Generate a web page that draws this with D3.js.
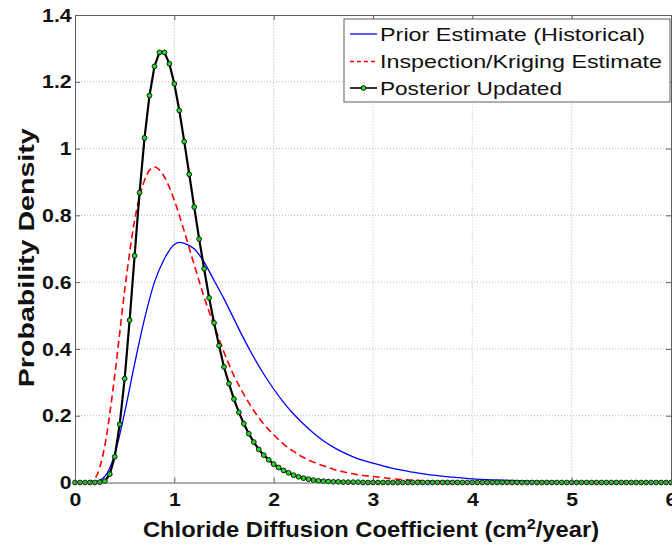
<!DOCTYPE html>
<html>
<head>
<meta charset="utf-8">
<script src="https://cdn.jsdelivr.net/npm/d3@7"></script>
<style>
  body { margin: 0; background: #fff; }
  svg { display: block; }
  text { font-family: "Liberation Sans", Arial, Helvetica, sans-serif; }
</style>
</head>
<body>
<svg id="chart"></svg>
<script>
// axis ticks
const xTicks = [0, 1, 2, 3, 4, 5, 6];
const yTicks = [0, 0.2, 0.4, 0.6, 0.8, 1, 1.2, 1.4];
const yTickLabels = ["0", "0.2", "0.4", "0.6", "0.8", "1", "1.2", "1.4"];
const seriesNames = ["Prior Estimate (Historical)", "Inspection/Kriging Estimate", "Posterior Updated"];

// prior (blue solid)
const priorX = [0, 0.1, 0.2, 0.3, 0.4, 0.5, 0.6, 0.7, 0.8, 0.9, 1.0, 1.05, 1.1, 1.2, 1.3, 1.4, 1.5, 1.6, 1.7, 1.8, 1.9,
  2.0, 2.1, 2.2, 2.3, 2.4, 2.5, 2.6, 2.7, 2.8, 2.9, 3.0, 3.2, 3.4, 3.6, 3.8, 4.0, 4.2, 4.4, 4.6, 4.8, 5.0, 5.5, 6.0];
const priorY = [0, 0, 0.002, 0.018, 0.085, 0.21, 0.355, 0.49, 0.60, 0.67, 0.713, 0.719, 0.716, 0.70, 0.66, 0.605, 0.55, 0.49, 0.43, 0.375, 0.325,
  0.28, 0.24, 0.205, 0.175, 0.148, 0.125, 0.106, 0.09, 0.077, 0.066, 0.058, 0.042, 0.031, 0.022, 0.016, 0.011, 0.008, 0.006, 0.004, 0.003, 0.002, 0.001, 0];

// inspection / kriging (red dashed)
const krigX = [0, 0.1, 0.2, 0.3, 0.4, 0.5, 0.6, 0.7, 0.8, 0.9, 1.0, 1.1, 1.2, 1.3, 1.4, 1.5, 1.6, 1.7, 1.8, 1.9,
  2.0, 2.1, 2.2, 2.3, 2.4, 2.5, 2.6, 2.7, 2.8, 2.9, 3.0, 3.2, 3.4, 3.6, 3.8, 4.0, 4.2, 4.5, 5.0, 6.0];
const krigY = [0, 0, 0.013, 0.11, 0.32, 0.575, 0.785, 0.905, 0.945, 0.915, 0.845, 0.752, 0.652, 0.555, 0.47, 0.39, 0.32, 0.264, 0.215, 0.175,
  0.143, 0.115, 0.093, 0.075, 0.061, 0.05, 0.04, 0.032, 0.026, 0.021, 0.018, 0.011, 0.007, 0.004, 0.003, 0.002, 0.001, 0.0005, 0, 0];

// posterior (black + green markers)
const postX = [
  0, 0.05, 0.1, 0.15, 0.2, 0.25, 0.3, 0.35, 0.4, 0.45, 0.5, 0.55, 0.6, 0.65, 0.7, 0.75, 0.8, 0.85, 0.9, 0.95,
  1, 1.05, 1.1, 1.15, 1.2, 1.25, 1.3, 1.35, 1.4, 1.45, 1.5, 1.55, 1.6, 1.65, 1.7, 1.75, 1.8, 1.85, 1.9, 1.95,
  2, 2.05, 2.1, 2.15, 2.2, 2.25, 2.3, 2.35, 2.4, 2.45, 2.5, 2.55, 2.6, 2.65, 2.7, 2.75, 2.8, 2.85, 2.9, 2.95,
  3, 3.05, 3.1, 3.15, 3.2, 3.25, 3.3, 3.35, 3.4, 3.45, 3.5, 3.55, 3.6, 3.65, 3.7, 3.75, 3.8, 3.85, 3.9, 3.95,
  4, 4.05, 4.1, 4.15, 4.2, 4.25, 4.3, 4.35, 4.4, 4.45, 4.5, 4.55, 4.6, 4.65, 4.7, 4.75, 4.8, 4.85, 4.9, 4.95,
  5, 5.05, 5.1, 5.15, 5.2, 5.25, 5.3, 5.35, 5.4, 5.45, 5.5, 5.55, 5.6, 5.65, 5.7, 5.75, 5.8, 5.85, 5.9, 5.95,
  6];
const postY = [
  0, 0, 0, 0, 0, 0.001, 0.004, 0.025, 0.077, 0.174, 0.311, 0.486, 0.679, 0.868, 1.032, 1.159, 1.246, 1.288, 1.288, 1.254,
  1.194, 1.114, 1.021, 0.923, 0.825, 0.729, 0.640, 0.553, 0.478, 0.410, 0.346, 0.296, 0.250, 0.210, 0.176, 0.146, 0.121, 0.099, 0.082, 0.068,
  0.055, 0.045, 0.036, 0.029, 0.022, 0.017, 0.013, 0.010, 0.007, 0.005, 0.004, 0.003, 0.002, 0.002, 0.001, 0.001, 0.001, 0.001, 0, 0,
  0, 0, 0, 0, 0, 0, 0, 0, 0, 0, 0, 0, 0, 0, 0, 0, 0, 0, 0, 0,
  0, 0, 0, 0, 0, 0, 0, 0, 0, 0, 0, 0, 0, 0, 0, 0, 0, 0, 0, 0,
  0, 0, 0, 0, 0, 0, 0, 0, 0, 0, 0, 0, 0, 0, 0, 0, 0, 0, 0, 0,
  0];

const width = 672, height = 546;
const margin = {top: 15, right: 1, bottom: 63.5, left: 75};

const svg = d3.select("#chart").attr("width", width).attr("height", height);

const x = d3.scaleLinear().domain([0, 6]).range([margin.left, width - margin.right]);
const y = d3.scaleLinear().domain([0, 1.4]).range([height - margin.bottom, margin.top]);

const boxColor = "#5e5e5e";
const gridColor = "#b8b8b8";
const textColor = "#111";

// grid (dotted, matlab style)
const grid = svg.append("g");
grid.selectAll(".gx").data(xTicks.slice(1, -1)).join("line")
  .attr("x1", d => x(d)).attr("x2", d => x(d))
  .attr("y1", y(0)).attr("y2", y(1.4))
  .attr("stroke", gridColor).attr("stroke-dasharray", "1,2");
grid.selectAll(".gy").data(yTicks.slice(1, -1)).join("line")
  .attr("class", "gy")
  .attr("x1", x(0)).attr("x2", x(6))
  .attr("y1", d => y(d)).attr("y2", d => y(d))
  .attr("stroke", gridColor).attr("stroke-dasharray", "1,2");

// lines
const lineGen = d3.line().x(d => x(d[0])).y(d => y(d[1])).curve(d3.curveMonotoneX);
const priorData = priorX.map((v, i) => [v, priorY[i]]);
const krigData = krigX.map((v, i) => [v, krigY[i]]);
const postData = postX.map((v, i) => [v, postY[i]]);

svg.append("path").datum(priorData)
  .attr("d", lineGen).attr("fill", "none")
  .attr("stroke", "#0000ff").attr("stroke-width", 1.3);

svg.append("path").datum(krigData)
  .attr("d", lineGen).attr("fill", "none")
  .attr("stroke", "#ff0000").attr("stroke-width", 1.6)
  .attr("stroke-dasharray", "7,4");

svg.append("path").datum(postData)
  .attr("d", d3.line().x(d => x(d[0])).y(d => y(d[1])))
  .attr("fill", "none").attr("stroke", "#000").attr("stroke-width", 2.2);

svg.append("g").selectAll("circle").data(postData).join("circle")
  .attr("cx", d => x(d[0])).attr("cy", d => y(d[1]))
  .attr("r", 2.4)
  .attr("fill", "#1fdc1f").attr("stroke", "#0a0a0a").attr("stroke-width", 0.9);

// axes
svg.append("g").attr("transform", `translate(0,${y(0)})`)
  .call(d3.axisBottom(x).tickValues(xTicks).tickFormat(d3.format("d"))
    .tickSizeInner(-5).tickSizeOuter(0).tickPadding(10));
svg.append("g").attr("transform", `translate(${x(0)},0)`)
  .call(d3.axisLeft(y).tickValues(yTicks).tickFormat((d, i) => yTickLabels[i])
    .tickSizeInner(-5).tickSizeOuter(0).tickPadding(3));
svg.append("g").attr("transform", `translate(0,${y(1.4)})`)
  .call(d3.axisTop(x).tickValues(xTicks).tickFormat("").tickSizeInner(-5).tickSizeOuter(0));
svg.append("g").attr("transform", `translate(${x(6)},0)`)
  .call(d3.axisRight(y).tickValues(yTicks).tickFormat("").tickSizeInner(-5).tickSizeOuter(0));

svg.selectAll(".domain, .tick line").attr("stroke", boxColor);
svg.selectAll(".tick text")
  .attr("fill", textColor)
  .attr("transform", "scale(1.12,1)")
  .style("font-size", "19px")
  .style("font-weight", "bold");

// axis labels (glyphs drawn a bit wider, like the source figure)
svg.append("text")
  .attr("transform", "translate(371,537) scale(1.08,1)")
  .attr("text-anchor", "middle")
  .style("font-size", "22px").style("font-weight", "bold").attr("fill", textColor)
  .call(t => {
    t.append("tspan").text("Chloride Diffusion Coefficient (cm");
    t.append("tspan").attr("dy", -8).style("font-size", "15px").text("2");
    t.append("tspan").attr("dy", 8).text("/year)");
  });

svg.append("text")
  .attr("transform", `translate(34,${(y(0) + y(1.4)) / 2 + 9}) rotate(-90) scale(1.3,1)`)
  .attr("text-anchor", "middle")
  .style("font-size", "22px").style("font-weight", "bold").attr("fill", textColor)
  .text("Probability Density");

// legend
const lg = svg.append("g");
lg.append("rect")
  .attr("x", 344).attr("y", 19).attr("width", 326).attr("height", 83)
  .attr("fill", "#fff").attr("stroke", boxColor);

const legRows = [34, 61.5, 88];
const legWidths = [265, 282, 182];
const legStyles = [
  {stroke: "#0000ff", dash: null, w: 1.3, marker: false},
  {stroke: "#ff0000", dash: "4,3", w: 1.6, marker: false},
  {stroke: "#000", dash: null, w: 1.6, marker: true}
];
seriesNames.forEach((name, i) => {
  const s = legStyles[i];
  lg.append("line")
    .attr("x1", 350).attr("x2", 377).attr("y1", legRows[i]).attr("y2", legRows[i])
    .attr("stroke", s.stroke).attr("stroke-width", s.w)
    .attr("stroke-dasharray", s.dash);
  if (s.marker) {
    lg.append("circle").attr("cx", 363.5).attr("cy", legRows[i]).attr("r", 2.4)
      .attr("fill", "#1fdc1f").attr("stroke", "#0a0a0a").attr("stroke-width", 0.9);
  }
  lg.append("text")
    .attr("x", 380).attr("y", legRows[i]).attr("dy", "0.36em")
    .attr("textLength", legWidths[i]).attr("lengthAdjust", "spacingAndGlyphs")
    .style("font-size", "19px").attr("fill", textColor)
    .text(name);
});
</script>
</body>
</html>
